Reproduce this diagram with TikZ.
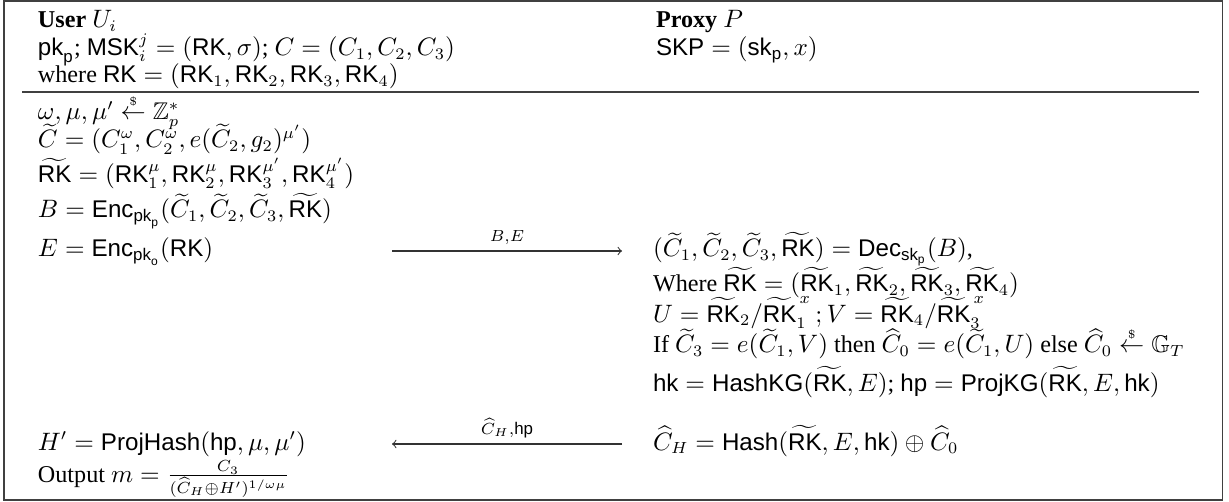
\documentclass[tikz,border=0pt]{standalone}
\usepackage{amsmath,amssymb}
\usepackage[no-math]{fontspec}
\setmainfont{Liberation Serif}
\setsansfont{Liberation Sans}
\newcommand{\sff}[1]{\textsf{#1}}
\newcommand{\rnd}{\overset{\scriptscriptstyle\$}{\leftarrow}}
\newcommand{\tRK}{\widetilde{\sff{RK}}}
\begin{document}
\begin{tikzpicture}[x=0.435pt,y=-0.435pt,
  txt/.style={anchor=base west,inner sep=0pt,outer sep=0pt,font=\fontsize{10.5}{12.6}\selectfont},
  lbl/.style={inner sep=0pt,font=\fontsize{10.5}{12.6}\selectfont},
  frame/.style={line width=0.45pt,draw=black!75},
  msg/.style={line width=0.45pt,draw=black!80,->}]
\useasboundingbox (0,0) rectangle (1229,502);
\draw[frame] (4,1) rectangle (1222.5,500);
\coordinate (rl) at (22,92);
\coordinate (rr) at (1199,92);
\draw[frame] (rl) -- (rr);
% header
\node[txt] (u1) at (38,28) {\textbf{User} $U_i$};
\node[txt] (u2) at (38,56) {$\sff{pk}_{\sff{p}}$; $\sff{MSK}_i^j = (\sff{RK},\sigma)$; $C=(C_1,C_2,C_3)$};
\node[txt] (u3) at (38,83) {where $\sff{RK} = (\sff{RK}_1,\sff{RK}_2,\sff{RK}_3,\sff{RK}_4)$};
\node[txt] (p1) at (656,28) {\textbf{Proxy} $P$};
\node[txt] (p2) at (656,56) {$\sff{SKP} = (\sff{sk}_{\sff{p}}, x)$};
% user body
\node[txt] (l1) at (38,120) {$\omega,\mu,\mu' \rnd \mathbb{Z}_p^*$};
\node[txt] (l2) at (38,148) {$\widetilde{C} = (C_1^{\omega}, C_2^{\omega}, e(\widetilde{C}_2,g_2)^{\mu'})$};
\node[txt] (l3) at (38,183) {$\tRK = (\sff{RK}_1^{\mu}, \sff{RK}_2^{\mu}, \sff{RK}_3^{\mu'}, \sff{RK}_4^{\mu'})$};
\node[txt] (l4) at (38,218) {$B = \sff{Enc}_{\sff{pk}_{\sff{p}}}(\widetilde{C}_1,\widetilde{C}_2,\widetilde{C}_3,\tRK)$};
\node[txt] (l5) at (38,257) {$E = \sff{Enc}_{\sff{pk}_{\sff{o}}}(\sff{RK})$};
\node[txt] (l6) at (38,450) {$H' = \sff{ProjHash}(\sff{hp},\mu,\mu')$};
\node[txt] (l7) at (38,482) {Output $m = \frac{C_3}{(\widehat{C}_H\oplus H')^{1/\omega\mu}}$};
% proxy body
\node[txt] (r1) at (653,257) {$(\widetilde{C}_1,\widetilde{C}_2,\widetilde{C}_3,\tRK) = \sff{Dec}_{\sff{sk}_{\sff{p}}}(B)$,};
\node[txt] (r2) at (653,292) {Where $\tRK = (\tRK_1,\tRK_2,\tRK_3,\tRK_4)$};
\node[txt] (r3) at (653,322) {$U = \tRK_2/\tRK_1^{\,x}\,; V = \tRK_4/\tRK_3^{\,x}$};
\node[txt] (r4) at (653,353) {If $\widetilde{C}_3 = e(\widetilde{C}_1,V)$ then $\widehat{C}_0 = e(\widetilde{C}_1,U)$ else $\widehat{C}_0 \rnd \mathbb{G}_T$};
\node[txt] (r5) at (653,391) {$\sff{hk} = \sff{HashKG}(\tRK,E)$; $\sff{hp} = \sff{ProjKG}(\tRK,E,\sff{hk})$};
\node[txt] (r6) at (653,450) {$\widehat{C}_H = \sff{Hash}(\tRK,E,\sff{hk}) \oplus \widehat{C}_0$};
% messages
\coordinate (m1s) at (392,251);
\coordinate (m1e) at (622,251);
\draw[msg] (m1s) -- node[lbl,above=2.5pt] (m1l) {$\scriptstyle B,E$} (m1e);
\coordinate (m2s) at (622,444);
\coordinate (m2e) at (392,444);
\draw[msg] (m2s) -- node[lbl,above=2.5pt] (m2l) {$\scriptstyle \widehat{C}_H,\sff{hp}$} (m2e);
\end{tikzpicture}
\end{document}
